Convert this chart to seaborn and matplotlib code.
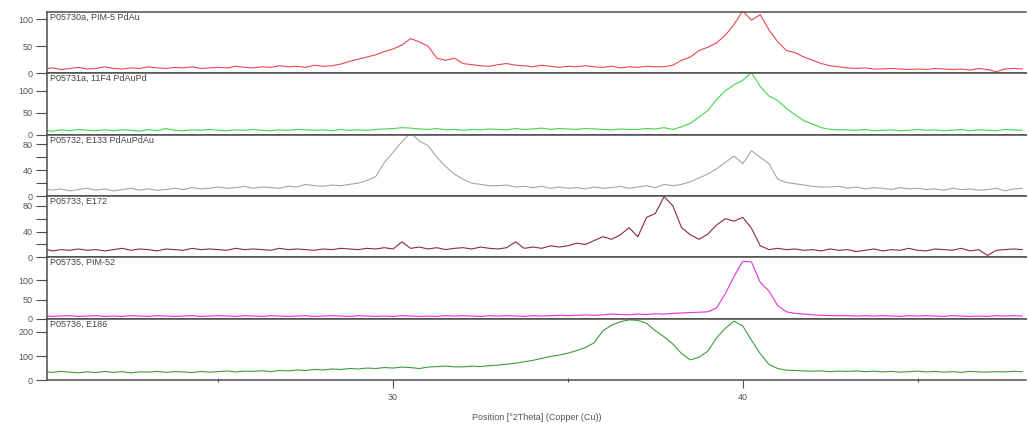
import numpy as np
import pandas as pd
import matplotlib
matplotlib.use("Agg")
import matplotlib.pyplot as plt
import seaborn as sns
from matplotlib.ticker import FixedLocator

# 2-theta grid (degrees), 0.25 deg steps from 20 to 48
two_theta = np.round(np.arange(20.0, 48.001, 0.25), 2)

names = [
    "P05730a, PIM-5 PdAu",
    "P05731a, 11F4 PdAuPd",
    "P05732, E133 PdAuPdAu",
    "P05733, E172",
    "P05735, PIM-52",
    "P05736, E186",
]

# counts, 4 values per degree (x.00, x.25, x.50, x.75), last value at 48.00
pim5_pdau = [
    8, 10, 7, 9,  11, 8, 9, 12,  9, 8, 10, 9,  12, 10, 9, 11,
    10, 12, 9, 10,  11, 10, 13, 11,  10, 12, 11, 14,  12, 13, 11, 15,
    13, 14, 17, 22,  26, 30, 34, 40,  45, 52, 64, 58,  50, 28, 24, 28,
    18, 16, 14, 13,  16, 18, 15, 14,  12, 15, 13, 11,  13, 12, 14, 12,
    11, 13, 10, 12,  11, 13, 12, 12,  15, 24, 30, 42,  48, 56, 70, 90,
    115, 98, 108, 80,  58, 42, 38, 30,  24, 18, 14, 12,  10, 9, 10, 8,
    8, 9, 8, 7,  8, 7, 9, 8,  7, 8, 6, 9,  7, 3, 8, 9,
    8,
]

f4_pdaupd = [
    10, 8, 11, 9,  12, 10, 9, 11,  9, 11, 10, 8,  12, 9, 14, 10,
    9, 11, 10, 12,  10, 9, 11, 10,  12, 10, 9, 11,  10, 12, 11, 10,
    11, 9, 12, 10,  11, 10, 12, 13,  14, 16, 15, 13,  12, 14, 11, 12,
    10, 12, 11, 13,  12, 11, 14, 12,  13, 15, 12, 14,  13, 12, 14, 13,
    12, 11, 13, 12,  12, 14, 13, 16,  12, 18, 26, 40,  55, 80, 100, 114,
    124, 142, 110, 88,  78, 60, 45, 32,  24, 16, 12, 11,  11, 10, 12, 9,
    10, 11, 9, 10,  12, 10, 11, 9,  10, 12, 9, 11,  10, 9, 12, 11,
    10,
]

e133_pdaupdau = [
    12, 9, 11, 8,  10, 12, 9, 11,  8, 10, 12, 9,  11, 9, 10, 12,
    10, 13, 11, 12,  14, 12, 13, 15,  12, 14, 13, 12,  15, 14, 18, 16,
    15, 17, 16, 18,  20, 24, 30, 52,  68, 84, 98, 85,  78, 60, 46, 34,
    26, 20, 18, 16,  16, 17, 14, 15,  13, 15, 12, 14,  12, 13, 11, 14,
    12, 13, 15, 12,  14, 16, 13, 18,  16, 18, 22, 28,  34, 42, 52, 62,
    50, 70, 60, 50,  26, 21, 19, 17,  15, 14, 14, 15,  12, 14, 11, 13,
    12, 10, 13, 11,  12, 10, 11, 9,  12, 10, 11, 9,  10, 12, 8, 11,
    12,
]

e172 = [
    14, 10, 12, 11,  13, 11, 12, 10,  12, 14, 11, 13,  12, 10, 13, 12,
    11, 14, 12, 13,  12, 11, 14, 12,  13, 12, 11, 14,  12, 13, 12, 11,
    13, 12, 14, 13,  12, 14, 13, 15,  13, 24, 14, 16,  13, 15, 12, 14,
    15, 13, 16, 14,  13, 15, 24, 14,  16, 14, 18, 16,  18, 22, 20, 26,
    32, 28, 35, 46,  32, 62, 68, 94,  80, 46, 35, 28,  36, 50, 60, 56,
    62, 45, 18, 12,  14, 12, 13, 11,  12, 10, 13, 11,  12, 9, 11, 13,
    10, 12, 11, 14,  11, 10, 13, 12,  11, 14, 10, 12,  3, 11, 12, 13,
    12,
]

pim52 = [
    8, 6, 7, 8,  6, 7, 8, 6,  7, 6, 8, 7,  6, 8, 7, 6,
    7, 8, 6, 7,  8, 7, 6, 8,  7, 6, 8, 7,  6, 7, 8, 6,
    7, 8, 7, 6,  8, 7, 6, 7,  6, 8, 7, 6,  7, 6, 8, 7,
    8, 7, 6, 8,  7, 8, 7, 6,  8, 7, 8, 9,  8, 9, 10, 9,
    10, 12, 11, 10,  12, 11, 13, 12,  14, 15, 16, 17,  18, 28, 65, 110,
    150, 148, 95, 72,  34, 18, 14, 12,  10, 9, 8, 8,  8, 7, 8, 7,
    8, 7, 6, 8,  7, 8, 7, 6,  8, 7, 6, 7,  6, 8, 7, 8,
    7,
]

e186 = [
    35, 32, 36, 33,  30, 34, 31, 36,  32, 35, 30, 34,  33, 36, 32, 35,
    34, 31, 36, 33,  35, 38, 34, 37,  36, 39, 35, 40,  38, 42, 40, 44,
    42, 46, 44, 48,  46, 50, 48, 52,  50, 54, 52, 48,  54, 56, 58, 55,
    55, 58, 56, 60,  62, 66, 70, 76,  82, 90, 98, 104,  112, 122, 135, 155,
    205, 228, 242, 250,  248, 236, 205, 180,  150, 110, 84, 95,  120, 175, 215, 245,
    225, 165, 110, 65,  48, 41, 40, 38,  37, 38, 35, 37,  36, 38, 35, 37,
    34, 36, 33, 35,  37, 34, 36, 33,  35, 32, 36, 34,  33, 35, 34, 36,
    35,
]

series = [pim5_pdau, f4_pdaupd, e133_pdaupdau, e172, pim52, e186]
colors = ["#e8474f", "#3fd94a", "#a6a6a6", "#8a2a3c", "#e030e0", "#3d9e3d"]
y_tops = [113, 140, 95, 95, 160, 255]
y_major = [[0, 50, 100], [0, 50, 100], [0, 40, 80], [0, 40, 80], [0, 50, 100], [0, 100, 200]]
y_minor = [[], [], [20, 60], [20, 60], [], []]

df = pd.concat(
    [pd.DataFrame({"two_theta": two_theta, "counts": s, "scan": n})
     for n, s in zip(names, series)],
    ignore_index=True,
)

sns.set_style("ticks")
plt.rcParams["font.family"] = ["Liberation Sans", "DejaVu Sans"]

fig = plt.figure(figsize=(10.28, 4.28), dpi=100)
gs = fig.add_gridspec(len(names), 1, left=0.0457, right=0.998,
                      top=0.972, bottom=0.112, hspace=0)
axes = [fig.add_subplot(gs[i]) for i in range(len(names))]

frame = "#4d4d4d"
for i, (ax, name) in enumerate(zip(axes, names)):
    sns.lineplot(data=df[df["scan"] == name], x="two_theta", y="counts",
                 ax=ax, color=colors[i], lw=0.8)
    ax.set_xlim(20.1, 48.1)
    ax.set_ylim(0, y_tops[i])
    ax.set_xlabel("")
    ax.set_ylabel("")
    ax.yaxis.set_major_locator(FixedLocator(y_major[i]))
    ax.yaxis.set_minor_locator(FixedLocator(y_minor[i]))
    ax.tick_params(axis="y", which="major", left=True, length=8, width=0.8,
                   color=frame, labelsize=6.5, labelcolor="#555555", pad=2,
                   direction="out")
    ax.tick_params(axis="y", which="minor", left=True, length=8, width=0.8,
                   color=frame, direction="out")
    for side in ("top", "bottom", "left"):
        ax.spines[side].set_color(frame)
        ax.spines[side].set_linewidth(1.1)
    ax.spines["right"].set_visible(False)
    ax.text(0.003, 0.985, name, transform=ax.transAxes, ha="left", va="top",
            fontsize=6.5, color="#444444")
    if i < len(names) - 1:
        ax.tick_params(axis="x", which="both", bottom=False, labelbottom=False)

bottom = axes[-1]
bottom.xaxis.set_major_locator(FixedLocator([30, 40]))
bottom.xaxis.set_minor_locator(FixedLocator([25, 35, 45]))
bottom.tick_params(axis="x", which="major", bottom=True, length=6, width=0.8,
                   color=frame, labelsize=6.5, labelcolor="#555555", pad=3,
                   direction="out")
bottom.tick_params(axis="x", which="minor", bottom=True, length=3, width=0.8,
                   color=frame, direction="inout")
bottom.set_xlabel("Position [\u00b02Theta] (Copper (Cu))", fontsize=6.5,
                  color="#555555", labelpad=8)

fig.savefig("out.png", dpi=100, facecolor="white")
